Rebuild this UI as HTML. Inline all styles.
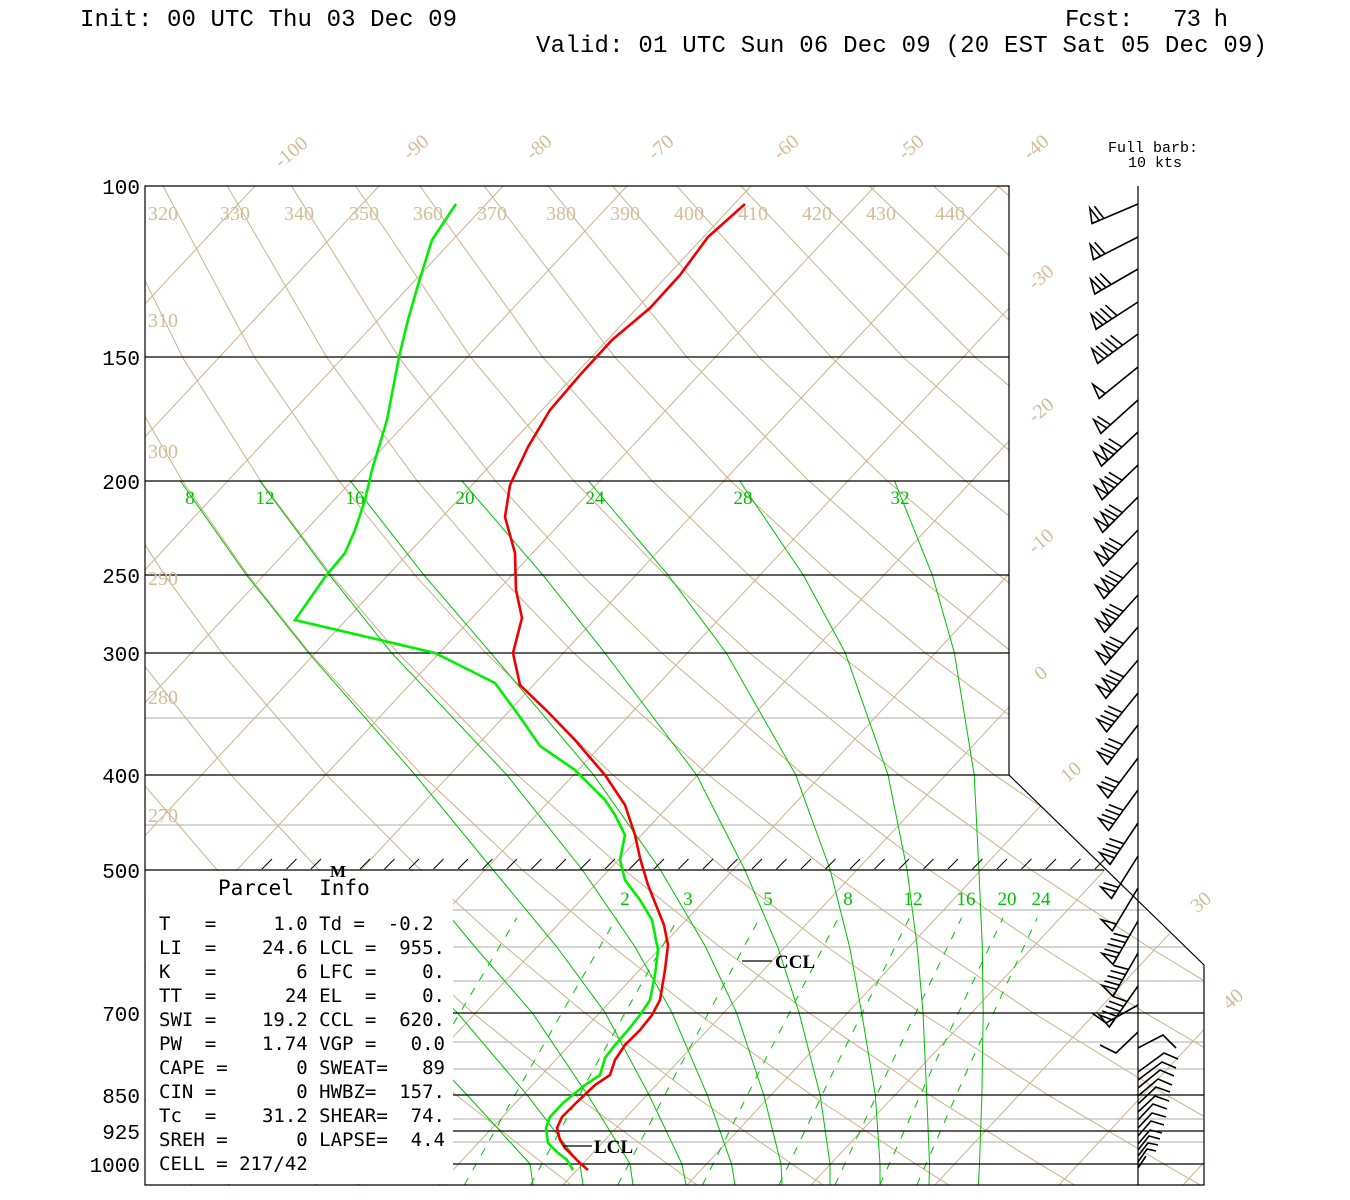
<!DOCTYPE html>
<html><head><meta charset="utf-8"><style>
html,body{margin:0;padding:0;background:#fff;}
svg{display:block;}
.hd{font-family:"Liberation Mono",monospace;font-size:24px;fill:#000;}
.pl{font-family:"Liberation Mono",monospace;font-size:21px;fill:#000;}
.tan{font-family:"Liberation Serif",serif;font-size:20px;fill:#d2bd9a;}
.grn{font-family:"Liberation Serif",serif;font-size:19px;fill:#00c000;}
.pi{font-family:"DejaVu Sans Mono","Liberation Mono",monospace;font-size:19px;fill:#000;}
.lab{font-family:"Liberation Serif",serif;font-size:19px;font-weight:bold;fill:#000;}
</style></head><body>
<svg width="1350" height="1200" viewBox="0 0 1350 1200" xmlns="http://www.w3.org/2000/svg" xmlns:xlink="http://www.w3.org/1999/xlink">
<defs>
<clipPath id="cp"><path d="M145,186 L1009,186 L1009,775 L1204,965 L1204,1185 L145,1185 Z"/></clipPath>
<g id="b1"><line x1="0" y1="0" x2="50" y2="0"/><polygon points="50,0 46,15 42,0"/><line x1="37" y1="0" x2="41" y2="15"/></g>
<g id="b2"><line x1="0" y1="0" x2="50" y2="0"/><polygon points="50,0 46,15 42,0"/><line x1="37" y1="0" x2="41" y2="15"/><line x1="31" y1="0" x2="35" y2="15"/></g>
<g id="b3"><line x1="0" y1="0" x2="50" y2="0"/><polygon points="50,0 46,15 42,0"/><line x1="37" y1="0" x2="41" y2="15"/><line x1="31" y1="0" x2="35" y2="15"/><line x1="25" y1="0" x2="29" y2="15"/></g>
<g id="b4"><line x1="0" y1="0" x2="50" y2="0"/><polygon points="50,0 46,15 42,0"/><line x1="37" y1="0" x2="41" y2="15"/><line x1="31" y1="0" x2="35" y2="15"/><line x1="25" y1="0" x2="29" y2="15"/><line x1="19" y1="0" x2="23" y2="15"/></g>
<g id="b5"><line x1="0" y1="0" x2="50" y2="0"/><polygon points="50,0 46,15 42,0"/></g>
<g id="b6"><line x1="0" y1="0" x2="50" y2="0"/><polygon points="50,0 46,15 42,0"/><polygon points="41,0 37,15 33,0"/><line x1="28" y1="0" x2="32" y2="15"/><line x1="22" y1="0" x2="26" y2="15"/></g>
</defs>
<rect width="1350" height="1200" fill="#fff"/>
<g clip-path="url(#cp)" fill="none">
<g stroke="#bdbdbd" stroke-width="1.2">
<line x1="145" y1="718" x2="1009" y2="718"/><line x1="145" y1="825" x2="1204" y2="825"/>
<line x1="453" y1="910" x2="1204" y2="910"/><line x1="453" y1="947" x2="1204" y2="947"/>
<line x1="453" y1="981" x2="1204" y2="981"/><line x1="453" y1="1042" x2="1204" y2="1042"/>
<line x1="453" y1="1069" x2="1204" y2="1069"/><line x1="453" y1="1119" x2="1204" y2="1119"/>
<line x1="453" y1="1142" x2="1204" y2="1142"/>
</g>
<g stroke="#cbb28c" stroke-width="1">
<line x1="-1297" y1="1185" x2="-365" y2="186"/><line x1="-1173" y1="1185" x2="-241" y2="186"/>
<line x1="-1049" y1="1185" x2="-117" y2="186"/><line x1="-925" y1="1185" x2="7" y2="186"/>
<line x1="-801" y1="1185" x2="131" y2="186"/><line x1="-677" y1="1185" x2="255" y2="186"/>
<line x1="-553" y1="1185" x2="379" y2="186"/><line x1="-429" y1="1185" x2="503" y2="186"/>
<line x1="-305" y1="1185" x2="627" y2="186"/><line x1="-181" y1="1185" x2="751" y2="186"/>
<line x1="-57" y1="1185" x2="875" y2="186"/><line x1="67" y1="1185" x2="999" y2="186"/>
<line x1="191" y1="1185" x2="1123" y2="186"/><line x1="315" y1="1185" x2="1247" y2="186"/>
<line x1="439" y1="1185" x2="1371" y2="186"/><line x1="563" y1="1185" x2="1495" y2="186"/>
<line x1="687" y1="1185" x2="1619" y2="186"/><line x1="811" y1="1185" x2="1743" y2="186"/>
<line x1="935" y1="1185" x2="1867" y2="186"/><line x1="1059" y1="1185" x2="1991" y2="186"/>
<line x1="1183" y1="1185" x2="2115" y2="186"/>
<polyline points="-222.3,186 -177.6,358.2 -131.1,480.4 -85.7,575.2 -42,652.6 40,774.8 115,869.5 184.2,947 248.4,1012.4 337.7,1094.9 419.6,1163.9 445.1,1184.6"/>
<polyline points="-158.1,186 -105.5,358.2 -52.8,480.4 -2.2,575.2 45.9,652.6 135.5,774.8 216.7,869.5 291.3,947 360.4,1012.4 456,1094.9 543.6,1163.9 570.9,1184.6"/>
<polyline points="-93.8,186 -33.3,358.2 25.5,480.4 81.2,575.2 133.8,652.6 230.9,774.8 318.5,869.5 398.5,947 472.3,1012.4 574.4,1094.9 667.6,1163.9 696.6,1184.6"/>
<polyline points="-29.6,186 38.8,358.2 103.8,480.4 164.7,575.2 221.7,652.6 326.4,774.8 420.2,869.5 505.6,947 584.3,1012.4 692.8,1094.9 791.6,1163.9 822.4,1184.6"/>
<polyline points="34.6,186 110.9,358.2 182.1,480.4 248.1,575.2 309.6,652.6 421.8,774.8 521.9,869.5 612.8,947 696.3,1012.4 811.2,1094.9 915.6,1163.9 948.1,1184.6"/>
<polyline points="98.8,186 183,358.2 260.3,480.4 331.5,575.2 397.5,652.6 517.2,774.8 623.6,869.5 720,947 808.3,1012.4 929.5,1094.9 1039.6,1163.9 1073.8,1184.6"/>
<polyline points="163,186 255.1,358.2 338.6,480.4 415,575.2 485.4,652.6 612.7,774.8 725.3,869.5 827.1,947 920.3,1012.4 1047.9,1094.9 1163.6,1163.9 1199.6,1184.6"/>
<polyline points="227.3,186 327.3,358.2 416.9,480.4 498.4,575.2 573.3,652.6 708.1,774.8 827.1,869.5 934.3,947 1032.4,1012.4 1166.3,1094.9 1287.6,1163.9 1325.3,1184.6"/>
<polyline points="291.5,186 399.4,358.2 495.2,480.4 581.9,575.2 661.2,652.6 803.6,774.8 928.8,869.5 1041.4,947 1144.4,1012.4 1284.6,1094.9"/>
<polyline points="355.7,186 471.5,358.2 573.5,480.4 665.3,575.2 749.1,652.6 899,774.8 1030.5,869.5 1148.6,947 1256.4,1012.4"/>
<polyline points="419.9,186 543.6,358.2 651.8,480.4 748.8,575.2 837,652.6 994.4,774.8 1132.2,869.5 1255.8,947"/>
<polyline points="484.1,186 615.7,358.2 730.1,480.4 832.2,575.2 924.9,652.6 1089.9,774.8 1233.9,869.5"/>
<polyline points="548.4,186 687.8,358.2 808.4,480.4 915.6,575.2 1012.8,652.6 1185.3,774.8"/>
<polyline points="612.6,186 759.9,358.2 886.7,480.4 999.1,575.2 1100.7,652.6 1280.8,774.8"/>
<polyline points="676.8,186 832.1,358.2 965,480.4 1082.5,575.2 1188.6,652.6"/>
<polyline points="741,186 904.2,358.2 1043.3,480.4 1166,575.2"/>
<polyline points="805.2,186 976.3,358.2 1121.6,480.4"/>
<polyline points="869.5,186 1048.4,358.2"/>
<polyline points="933.7,186 1120.5,358.2"/>
<polyline points="997.9,186 1190,358.2"/>
</g>
<g stroke="#00c000" stroke-width="1">
<polyline points="894.3,480.4 932.4,575.2 954.3,652.6 974.2,774.8 978.9,869.5 982.3,947 983.2,1012.4 981.9,1094.9 979.5,1163.9 978.4,1185"/>
<polyline points="739.3,480.4 803.4,575.2 845.2,652.6 888,774.8 907,869.5 917.2,947 923,1012.4 926.7,1094.9 929.5,1163.9 929,1185"/>
<polyline points="588,480.4 668.2,575.2 726.1,652.6 795.7,774.8 830.1,869.5 849.6,947 861.6,1012.4 875.3,1094.9 880,1163.9 880,1185"/>
<polyline points="461.5,480.4 543,575.2 604.6,652.6 696.5,774.8 744.6,869.5 777.7,947 799,1012.4 820.1,1094.9 830,1163.9 830,1185"/>
<polyline points="349.9,480.4 424,575.2 490.5,652.6 593.5,774.8 660.2,869.5 705.7,947 736.4,1012.4 763.7,1094.9 781,1163.9 782,1185"/>
<polyline points="259.4,480.4 329.7,575.2 391.3,652.6 506.7,774.8 582.1,869.5 635.1,947 671.9,1012.4 707.2,1094.9 731.5,1163.9 735,1185"/>
<polyline points="180,480.4 246.6,575.2 308.3,652.6 415,774.8 492.8,869.5 556.9,947 605,1012.4 649,1094.9 681.9,1163.9 686,1185"/>
<polyline points="411,869.5 475,947 532,1012.4 587.6,1094.9 630,1163.9 633,1185"/>
<polyline points="394,947 457,1012.4 527,1094.9 580,1163.9 583,1185"/>
<polyline points="389,1012.4 467,1094.9 530,1163.9 533,1185"/>
</g>
<g stroke="#00c000" stroke-width="1" stroke-dasharray="8,9">
<polyline points="228.3,1185 300,1069 395.3,917.7"/>
<polyline points="357.9,1185 426.2,1069 516.9,917.7"/>
<polyline points="464.3,1185 529.6,1069 616.6,917.7"/>
<polyline points="530.4,1185 593.7,1069 678.4,917.7"/>
<polyline points="617.8,1185 678.4,1069 759.7,917.7"/>
<polyline points="702.4,1185 760.5,1069 838.4,917.7"/>
<polyline points="779,1185 834.5,1069 909.5,917.7"/>
<polyline points="835,1185 888.8,1069 961.6,917.7"/>
<polyline points="879.8,1185 932.1,1069 1003,917.7"/>
<polyline points="916.8,1185 967.8,1069 1037.2,917.7"/>
</g>
</g>
<rect x="146" y="871" width="307" height="313" fill="#fff"/>
<g stroke="#000" stroke-width="1.2" fill="none">
<path d="M145,186 L1009,186 L1009,775 L1204,965 L1204,1185 L145,1185 Z"/>
<line x1="145" y1="357" x2="1009" y2="357"/><line x1="145" y1="481" x2="1009" y2="481"/>
<line x1="145" y1="575" x2="1009" y2="575"/><line x1="145" y1="653" x2="1009" y2="653"/>
<line x1="145" y1="775" x2="1009" y2="775"/><line x1="145" y1="870" x2="1104" y2="870"/>
<line x1="453" y1="1013" x2="1204" y2="1013"/><line x1="453" y1="1095" x2="1204" y2="1095"/>
<line x1="453" y1="1131" x2="1204" y2="1131"/><line x1="453" y1="1164" x2="1204" y2="1164"/>
<line x1="1138" y1="186" x2="1138" y2="1185"/>
<path stroke-width="1" d="M262,869l10,-10M286.5,869l10,-10M311,869l10,-10M360,869l10,-10M384.5,869l10,-10M409,869l10,-10M433.5,869l10,-10M458,869l10,-10M482.5,869l10,-10M507,869l10,-10M531.5,869l10,-10M556,869l10,-10M580.5,869l10,-10M605,869l10,-10M629.5,869l10,-10M654,869l10,-10M678.5,869l10,-10M703,869l10,-10M727.5,869l10,-10M752,869l10,-10M776.5,869l10,-10M801,869l10,-10M825.5,869l10,-10M850,869l10,-10M874.5,869l10,-10M899,869l10,-10M923.5,869l10,-10M948,869l10,-10M972.5,869l10,-10M997,869l10,-10M1021.5,869l10,-10M1046,869l10,-10M1070.5,869l10,-10M1095,869l10,-10"/>
</g>
<polyline fill="none" stroke="#00ee00" stroke-width="2.6" points="456,204 432,240 418,285 408,320 399,357 387,420 372,470 365,500 355,530 345,553 325,577 295,620 380,640 435,653 495,683 520,717 540,746 575,770 605,800 615,815 625,835 620,860 625,880 640,900 652,920 658,950 655,975 650,1000 640,1015 628,1030 615,1045 605,1058 600,1075 585,1085 563,1103 550,1117 546,1128 548,1143 557,1152 567,1160 573,1170"/>
<polyline fill="none" stroke="#ee0000" stroke-width="2.6" points="745,204 708,237 680,275 650,308 612,340 580,375 550,410 528,447 510,485 505,517 515,553 516,590 522,618 513,653 520,685 548,712 575,740 605,775 625,805 635,835 640,858 648,885 664,925 668,945 665,970 660,1000 652,1015 640,1030 625,1045 615,1060 610,1075 595,1085 577,1102 562,1117 557,1128 560,1140 565,1148 580,1163 588,1170"/>
<g stroke="#000" stroke-width="1.6" fill="none">
<use xlink:href="#b1" transform="translate(1138,204) rotate(157)"/>
<use xlink:href="#b1" transform="translate(1138,237) rotate(153)"/>
<use xlink:href="#b2" transform="translate(1138,269) rotate(150)"/>
<use xlink:href="#b3" transform="translate(1138,302) rotate(147)"/>
<use xlink:href="#b4" transform="translate(1138,334) rotate(144)"/>
<use xlink:href="#b5" transform="translate(1138,367) rotate(141)"/>
<use xlink:href="#b1" transform="translate(1138,400) rotate(138)"/>
<use xlink:href="#b6" transform="translate(1138,432) rotate(137)"/>
<use xlink:href="#b6" transform="translate(1138,465) rotate(136)"/>
<use xlink:href="#b6" transform="translate(1138,497) rotate(135)"/>
<use xlink:href="#b6" transform="translate(1138,530) rotate(134)"/>
<use xlink:href="#b6" transform="translate(1138,562) rotate(133)"/>
<use xlink:href="#b6" transform="translate(1138,595) rotate(132)"/>
<use xlink:href="#b6" transform="translate(1138,627) rotate(131)"/>
<use xlink:href="#b6" transform="translate(1138,660) rotate(130)"/>
<use xlink:href="#b3" transform="translate(1138,693) rotate(129)"/>
<use xlink:href="#b3" transform="translate(1138,725) rotate(128)"/>
<use xlink:href="#b2" transform="translate(1138,758) rotate(127)"/>
<use xlink:href="#b3" transform="translate(1138,790) rotate(126)"/>
<use xlink:href="#b3" transform="translate(1138,823) rotate(124)"/>
<use xlink:href="#b1" transform="translate(1138,856) rotate(122)"/>
<use xlink:href="#b5" transform="translate(1138,888) rotate(121)"/>
<use xlink:href="#b4" transform="translate(1138,921) rotate(120)"/>
<use xlink:href="#b4" transform="translate(1138,953) rotate(120)"/>
<use xlink:href="#b4" transform="translate(1138,986) rotate(125)"/>
<polyline points="1138,1005 1106,1023 1092,1013"/>
<polyline points="1138,1032 1116,1053 1100,1045"/>
<polyline points="1138,1048 1163,1035 1176,1048"/>
<path d="M1138,1072l26,-19l14,6M1138,1080l24,-18l14,6M1138,1088l22,-18l14,6M1138,1096l20,-17l14,6M1138,1104l18,-17l14,5M1138,1112l17,-16l14,5M1138,1120l15,-16l14,5M1138,1128l14,-15l14,4M1138,1136l13,-15l13,4M1138,1144l12,-14l12,3M1138,1150l11,-14l11,3M1138,1156l10,-13l10,2M1138,1162l9,-13l9,2M1138,1168l8,-12"/>
</g>
<text class="hd" x="80" y="26" textLength="377">Init: 00 UTC Thu 03 Dec 09</text>
<text class="hd" x="1065" y="26" textLength="163">Fcst:&#160;&#160; 73 h</text>
<text class="hd" x="536" y="52" textLength="731">Valid: 01 UTC Sun 06 Dec 09 (20 EST Sat 05 Dec 09)</text>
<text class="pl" x="140" y="194" text-anchor="end">100</text>
<text class="pl" x="140" y="365" text-anchor="end">150</text>
<text class="pl" x="140" y="489" text-anchor="end">200</text>
<text class="pl" x="140" y="583" text-anchor="end">250</text>
<text class="pl" x="140" y="661" text-anchor="end">300</text>
<text class="pl" x="140" y="783" text-anchor="end">400</text>
<text class="pl" x="140" y="878" text-anchor="end">500</text>
<text class="pl" x="140" y="1021" text-anchor="end">700</text>
<text class="pl" x="140" y="1103" text-anchor="end">850</text>
<text class="pl" x="140" y="1139" text-anchor="end">925</text>
<text class="pl" x="140" y="1172" text-anchor="end">1000</text>
<g class="tan">
<text x="148" y="220">320</text><text x="220" y="220">330</text><text x="284" y="220">340</text><text x="349" y="220">350</text>
<text x="413" y="220">360</text><text x="477" y="220">370</text><text x="546" y="220">380</text><text x="610" y="220">390</text>
<text x="674" y="220">400</text><text x="738" y="220">410</text><text x="802" y="220">420</text><text x="866" y="220">430</text><text x="935" y="220">440</text>
<text x="148" y="327">310</text><text x="148" y="458">300</text><text x="148" y="585">290</text><text x="148" y="704">280</text><text x="148" y="822">270</text>
<text transform="translate(295,157) rotate(-40)" text-anchor="middle">-100</text>
<text transform="translate(420,152) rotate(-40)" text-anchor="middle">-90</text>
<text transform="translate(543,152) rotate(-40)" text-anchor="middle">-80</text>
<text transform="translate(665,152) rotate(-40)" text-anchor="middle">-70</text>
<text transform="translate(790,152) rotate(-40)" text-anchor="middle">-60</text>
<text transform="translate(915,152) rotate(-40)" text-anchor="middle">-50</text>
<text transform="translate(1040,152) rotate(-40)" text-anchor="middle">-40</text>
<text transform="translate(1045,282) rotate(-40)" text-anchor="middle">-30</text>
<text transform="translate(1045,415) rotate(-40)" text-anchor="middle">-20</text>
<text transform="translate(1045,546) rotate(-40)" text-anchor="middle">-10</text>
<text transform="translate(1045,678) rotate(-40)" text-anchor="middle">0</text>
<text transform="translate(1075,777) rotate(-40)" text-anchor="middle">10</text>
<text transform="translate(1205,907) rotate(-40)" text-anchor="middle">30</text>
<text transform="translate(1237,1004) rotate(-40)" text-anchor="middle">40</text>
</g>
<g class="grn">
<text x="190" y="504" text-anchor="middle">8</text><text x="265" y="504" text-anchor="middle">12</text>
<text x="355" y="504" text-anchor="middle">16</text><text x="465" y="504" text-anchor="middle">20</text>
<text x="595" y="504" text-anchor="middle">24</text><text x="743" y="504" text-anchor="middle">28</text>
<text x="900" y="504" text-anchor="middle">32</text>
<text x="625" y="905" text-anchor="middle">2</text><text x="688" y="905" text-anchor="middle">3</text>
<text x="768" y="905" text-anchor="middle">5</text><text x="848" y="905" text-anchor="middle">8</text>
<text x="913" y="905" text-anchor="middle">12</text><text x="966" y="905" text-anchor="middle">16</text>
<text x="1007" y="905" text-anchor="middle">20</text><text x="1041" y="905" text-anchor="middle">24</text>
</g>
<text x="1153" y="152" text-anchor="middle" style="font-family:'Liberation Mono',monospace;font-size:15px;">Full barb:</text>
<text x="1155" y="167" text-anchor="middle" style="font-family:'Liberation Mono',monospace;font-size:15px;">10 kts</text>
<text x="338" y="877" text-anchor="middle" style="font-family:'Liberation Serif',serif;font-size:17px;font-weight:bold;">M</text>
<g class="pi">
<text x="218" y="895" style="font-size:21px">Parcel&#160; Info</text>
<text x="159" y="930">T&#160;&#160; =&#160;&#160;&#160;&#160; 1.0 Td =&#160; -0.2</text>
<text x="159" y="954">LI&#160; =&#160;&#160;&#160; 24.6 LCL =&#160; 955.</text>
<text x="159" y="978">K&#160;&#160; =&#160;&#160;&#160;&#160;&#160;&#160; 6 LFC =&#160;&#160;&#160; 0.</text>
<text x="159" y="1002">TT&#160; =&#160;&#160;&#160;&#160;&#160; 24 EL&#160; =&#160;&#160;&#160; 0.</text>
<text x="159" y="1026">SWI =&#160;&#160;&#160; 19.2 CCL =&#160; 620.</text>
<text x="159" y="1050">PW&#160; =&#160;&#160;&#160; 1.74 VGP =&#160;&#160; 0.0</text>
<text x="159" y="1074">CAPE =&#160;&#160;&#160;&#160;&#160; 0 SWEAT=&#160;&#160; 89</text>
<text x="159" y="1098">CIN =&#160;&#160;&#160;&#160;&#160;&#160; 0 HWBZ=&#160; 157.</text>
<text x="159" y="1122">Tc&#160; =&#160;&#160;&#160; 31.2 SHEAR=&#160; 74.</text>
<text x="159" y="1146">SREH =&#160;&#160;&#160;&#160;&#160; 0 LAPSE=&#160; 4.4</text>
<text x="159" y="1170">CELL = 217/42</text>
</g>
<line x1="742" y1="961" x2="772" y2="961" stroke="#000" stroke-width="1.2"/>
<text class="lab" x="775" y="968">CCL</text>
<line x1="563" y1="1146" x2="592" y2="1146" stroke="#000" stroke-width="1.2"/>
<text class="lab" x="594" y="1153">LCL</text>
</svg>
</body></html>
